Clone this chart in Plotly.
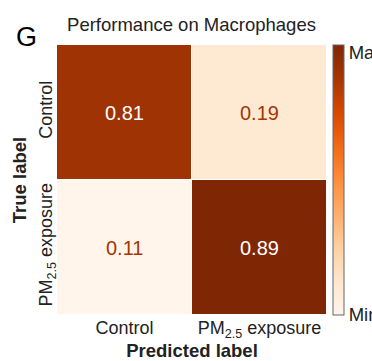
import plotly.graph_objects as go

x_labels = ["Control", "PM<sub>2.5</sub> exposure"]
y_labels = ["Control", "PM<sub>2.5</sub> exposure"]
values = [[0.81, 0.19],
          [0.11, 0.89]]
colorbar_labels = ["Min", "Max"]

FONT = "Liberation Sans, Arial, sans-serif"
oranges = [[0.0, "#fff5eb"], [0.125, "#fee6ce"], [0.25, "#fdd0a2"], [0.375, "#fdae6b"],
           [0.5, "#fd8d3c"], [0.625, "#f16913"], [0.75, "#d94801"], [0.875, "#a63603"],
           [1.0, "#7f2704"]]

zmin = min(min(r) for r in values)
zmax = max(max(r) for r in values)

L, R, T, B = 57, 45, 45, 46
PW, PH = 372 - L - R, 361 - T - B
zspan = zmax - zmin

fig = go.Figure(go.Heatmap(
    z=values, x=x_labels, y=y_labels,
    colorscale=oranges, zmin=zmin, zmax=zmax,
    xgap=1, ygap=1,
    colorbar=dict(
        thickness=11, len=1.0, lenmode="fraction", y=0.5, yanchor="middle",
        x=1.0 + 6 / PW, xpad=0, ypad=0, xanchor="left",
        outlinewidth=1, outlinecolor="#666666",
        tickvals=[zmin, zmax - zspan * 8 / PH], ticktext=colorbar_labels,
        ticks="", ticklabelposition="outside",
        tickfont=dict(family=FONT, size=18.5, color="#222222"),
    ),
    showscale=True,
    hoverinfo="skip",
))

for i, row in enumerate(values):
    for j, v in enumerate(row):
        norm = (v - zmin) / zspan
        fig.add_annotation(
            x=x_labels[j], y=y_labels[i], text=f"{v:.2f}", showarrow=False,
            font=dict(family=FONT, size=20, color="white" if norm > 0.5 else "#a63603"),
        )

fig.add_annotation(x=(26 - L) / PW, y=1 + (T - 37) / PH, xref="paper", yref="paper",
                   text="G", showarrow=False, xanchor="center", yanchor="middle",
                   font=dict(family=FONT, size=27, color="black"))

fig.update_layout(
    width=372, height=361,
    margin=dict(l=L, r=R, t=T, b=B, autoexpand=False),
    paper_bgcolor="white", plot_bgcolor="white",
    title=dict(text="Performance on Macrophages", x=(65 + 318) / 2 / 372, xanchor="center",
               y=1 - 25 / 361, yanchor="middle",
               font=dict(family=FONT, size=18.5, color="#222222")),
    xaxis=dict(showgrid=False, zeroline=False, ticks="", automargin=False,
               tickfont=dict(family=FONT, size=18, color="#222222"),
               title=dict(text="<b>Predicted label</b>", font=dict(family=FONT, size=18.5, color="#222222"), standoff=4)),
    yaxis=dict(showgrid=False, zeroline=False, ticks="", autorange="reversed", tickangle=-90, automargin=False,
               tickfont=dict(family=FONT, size=18, color="#222222"),
               title=dict(text="<b>True label</b>", font=dict(family=FONT, size=18.5, color="#222222"), standoff=4)),
)

fig.write_html("out.html", config={"displayModeBar": False},
               post_script="document.body.style.margin='0';")
